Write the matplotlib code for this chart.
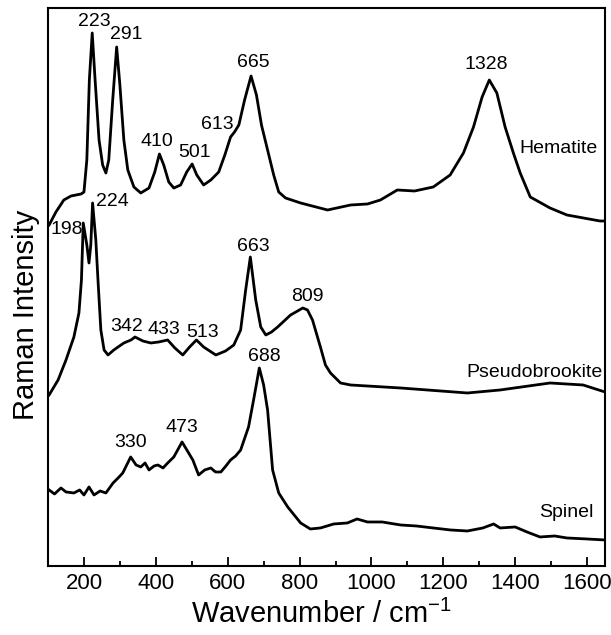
import numpy as np
import matplotlib
matplotlib.use('Agg')
import matplotlib.pyplot as plt
from matplotlib.ticker import MultipleLocator

plt.rcParams['font.family'] = ['Liberation Sans', 'DejaVu Sans']
plt.rcParams['mathtext.default'] = 'regular'

# spectra (wavenumber, intensity in arbitrary offset units)
hem_wn = [103, 122, 144, 164, 192, 200, 208, 215, 223, 231, 242, 252, 261, 269, 280, 291,
          300, 311, 322, 339, 358, 381, 397, 410, 422, 436, 450, 469, 486, 501, 514, 533,
          553, 575, 592, 608, 619, 631, 647, 665, 680, 694, 711, 728, 742, 761, 803, 878,
          942, 989, 1025, 1072, 1120, 1172, 1219, 1256, 1284, 1308, 1328, 1349, 1372, 1395, 1414,
          1442, 1497, 1544, 1590, 1636, 1650]
hem_int = [341, 354, 366, 370, 372, 374, 406, 486, 533, 486, 426, 401, 393, 406, 466, 519,
           481, 426, 396, 379, 373, 378, 394, 412, 401, 384, 378, 381, 394, 402, 391, 381,
           386, 394, 411, 429, 434, 441, 466, 490, 471, 441, 416, 391, 374, 368, 363, 356,
           361, 362, 366, 376, 375, 379, 391, 413, 439, 469, 486, 473, 439, 413, 393,
           369, 358, 351, 348, 345, 345]

pbk_wn = [103, 128, 150, 172, 186, 193, 198, 208, 214, 219, 224, 233, 239, 247, 256, 267,
          283, 311, 331, 342, 364, 386, 408, 433, 453, 475, 494, 513, 533, 567, 594, 617,
          636, 650, 663, 678, 692, 706, 722, 739, 775, 809, 822, 836, 858, 872, 886, 914,
          942, 1081, 1267, 1358, 1497, 1589, 1650]
pbk_int = [171, 186, 206, 229, 253, 286, 343, 321, 303, 321, 363, 326, 286, 236, 216, 211,
           216, 223, 226, 229, 225, 223, 224, 226, 218, 211, 219, 226, 219, 211, 215, 221,
           236, 276, 309, 266, 239, 231, 234, 239, 251, 258, 256, 246, 219, 201, 193, 183,
           181, 178, 173, 176, 183, 181, 174]

spn_wn = [103, 118, 136, 150, 172, 188, 200, 214, 228, 245, 261, 281, 295, 308, 330, 345,
          358, 370, 381, 395, 406, 420, 433, 450, 473, 503, 519, 536, 553, 566, 581, 595,
          608, 622, 636, 658, 672, 688, 700, 711, 725, 742, 767, 803, 830, 858, 895, 933,
          960, 989, 1030, 1081, 1125, 1172, 1220, 1267, 1310, 1340, 1358, 1400, 1433, 1469,
          1510, 1544, 1600, 1650]
spn_int = [76, 72, 78, 74, 73, 76, 71, 79, 71, 75, 73, 83, 88, 93, 109, 101,
           99, 103, 96, 100, 101, 98, 103, 109, 124, 106, 91, 96, 98, 94, 94, 100,
           106, 110, 116, 139, 166, 198, 181, 156, 96, 73, 59, 43, 37, 38, 42, 43,
           47, 44, 44, 41, 40, 38, 36, 35, 38, 42, 38, 39, 34, 29, 30, 28, 27, 26]

# peak labels: (wavenumber, text, dx px, dy px)
hem_peaks = [(223, '223', 2, 11), (291, '291', 10, 12), (410, '410', -3, 12),
             (501, '501', 2, 11), (613, '613', -15, 10), (665, '665', 2, 13),
             (1328, '1328', -3, 15)]
pbk_peaks = [(198, '198', -16, -7), (224, '224', 20, 1), (342, '342', -8, 10),
             (433, '433', -4, 10), (513, '513', 6, 7), (663, '663', 3, 10),
             (809, '809', 5, 11)]
spn_peaks = [(330, '330', 0, 14), (473, '473', 0, 14), (688, '688', 5, 11)]

names = ['Hematite', 'Pseudobrookite', 'Spinel']
name_pos = [(0.987, 0.749), (0.996, 0.346), (0.980, 0.095)]

fig = plt.figure(figsize=(6.11, 6.35), dpi=100)
ax = fig.add_axes([0.0786, 0.1087, 0.9116, 0.8787])

spectra = [(hem_wn, hem_int, hem_peaks), (pbk_wn, pbk_int, pbk_peaks), (spn_wn, spn_int, spn_peaks)]
for wn, inten, peaks in spectra:
    ax.plot(wn, inten, color='black', lw=2.0)
    for p, txt, dx, dy in peaks:
        yp = np.interp(p, wn, inten)
        ax.annotate(txt, xy=(p, yp), xytext=(dx, dy), textcoords='offset pixels',
                    ha='center', va='center', fontsize=14)

for name, (xf, yf) in zip(names, name_pos):
    ax.text(xf, yf, name, transform=ax.transAxes, ha='right', va='center', fontsize=14)

ax.set_xlim(100, 1650)
ax.set_ylim(0, 558)
ax.set_yticks([])
ax.xaxis.set_major_locator(MultipleLocator(200))
ax.xaxis.set_minor_locator(MultipleLocator(100))
ax.tick_params(axis='x', which='major', direction='in', length=6.5, width=1.3, labelsize=16, pad=5)
ax.tick_params(axis='x', which='minor', direction='in', length=3.5, width=1.3)
for s in ax.spines.values():
    s.set_linewidth(1.5)

ax.set_xlabel('Wavenumber / cm$^{-1}$', fontsize=21)
ax.set_ylabel('Raman Intensity', fontsize=21)
ax.yaxis.set_label_coords(-0.015, 0.45)
ax.xaxis.set_label_coords(0.49, -0.060)

fig.savefig('out.png', dpi=100)
